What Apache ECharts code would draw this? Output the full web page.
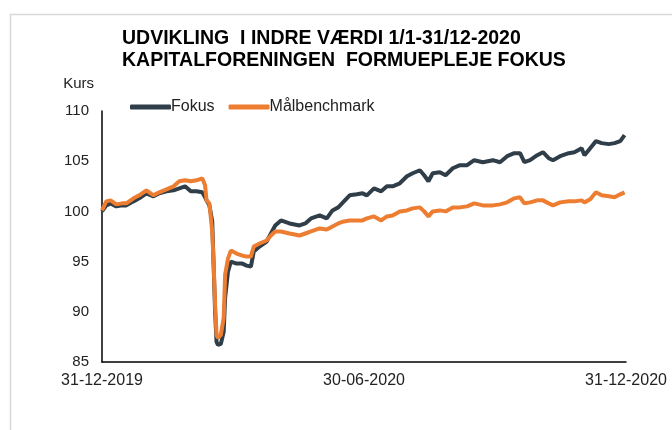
<!DOCTYPE html>
<html>
<head>
<meta charset="utf-8">
<script src="https://cdn.jsdelivr.net/npm/echarts@6/dist/echarts.min.js"></script>
<style>
  html, body { margin: 0; padding: 0; background: #fff; }
  #chart { width: 672px; height: 430px; }
</style>
</head>
<body>
<div id="chart"></div>
<script>
// dage efter 31-12-2019
const days = [0, 3, 6, 10, 14, 17, 22, 26, 31, 36, 40, 45, 50, 54, 58, 62, 66, 70, 72, 73, 75, 77, 78, 79, 80, 81, 83, 85, 86, 88, 90, 94, 98, 101, 104, 106, 110, 115, 118, 121, 125, 131, 138, 142, 146, 152, 157, 161, 165, 169, 173, 178, 182, 185, 190, 195, 199, 203, 208, 213, 217, 222, 225, 228, 231, 236, 240, 245, 250, 255, 260, 266, 273, 278, 283, 288, 292, 295, 299, 304, 308, 312, 315, 320, 326, 330, 335, 337, 341, 345, 349, 354, 358, 362, 365];

const fokus = [100.0, 100.6, 100.8, 100.5, 100.6, 100.6, 101.0, 101.3, 101.8, 101.5, 101.8, 102.0, 102.1, 102.3, 102.5, 102.0, 102.0, 101.9, 101.4, 101.1, 100.6, 99.0, 94.5, 90.0, 87.0, 86.7, 86.8, 88.0, 91.4, 94.0, 95.0, 94.8, 94.8, 94.6, 94.5, 96.0, 96.5, 97.0, 97.8, 98.6, 99.1, 98.8, 98.6, 98.8, 99.3, 99.6, 99.3, 100.1, 100.4, 101.0, 101.6, 101.7, 101.8, 101.6, 102.3, 102.0, 102.5, 102.5, 102.8, 103.5, 103.8, 104.1, 103.6, 103.0, 103.8, 103.9, 103.6, 104.3, 104.6, 104.6, 105.1, 104.9, 105.1, 104.9, 105.5, 105.8, 105.8, 104.9, 105.1, 105.6, 105.9, 105.3, 105.1, 105.5, 105.8, 105.9, 106.3, 105.6, 106.3, 107.0, 106.8, 106.7, 106.8, 107.0, 107.6];

const benchmark = [100.1, 101.0, 101.1, 100.7, 100.8, 100.8, 101.3, 101.6, 102.1, 101.6, 101.9, 102.2, 102.5, 103.0, 103.1, 103.0, 103.1, 103.3, 102.6, 101.1, 100.8, 98.0, 94.7, 90.7, 87.7, 87.4, 87.7, 89.4, 93.7, 95.3, 96.1, 95.8, 95.6, 95.5, 95.5, 96.5, 96.8, 97.1, 97.6, 98.0, 98.0, 97.8, 97.6, 97.8, 98.0, 98.3, 98.2, 98.5, 98.8, 99.0, 99.1, 99.1, 99.1, 99.3, 99.5, 99.1, 99.5, 99.6, 100.0, 100.1, 100.3, 100.4, 100.0, 99.5, 100.0, 100.1, 100.0, 100.4, 100.4, 100.5, 100.8, 100.6, 100.6, 100.7, 100.9, 101.3, 101.4, 100.8, 100.9, 101.1, 101.1, 100.8, 100.6, 100.9, 101.0, 101.0, 101.1, 100.9, 101.2, 101.9, 101.6, 101.5, 101.4, 101.7, 101.9];

const xTickLabels = ['31-12-2019', '30-06-2020', '31-12-2020'];
const seriesNames = ['Fokus', 'Målbenchmark'];

const chart = echarts.init(document.getElementById('chart'));

const option = {
  animation: false,
  textStyle: { fontFamily: 'Liberation Sans, Arial, sans-serif' },
  graphic: [
    {
      type: 'rect',
      left: 8,
      top: 12,
      shape: { width: 700, height: 460 },
      style: { fill: 'none', stroke: '#d9d9d9', lineWidth: 1.5 },
      silent: true
    }
  ],
  title: {
    text: 'UDVIKLING  I INDRE VÆRDI 1/1-31/12-2020\nKAPITALFORENINGEN  FORMUEPLEJE FOKUS',
    left: 122,
    top: 28,
    padding: 0,
    textStyle: {
      fontSize: 19.5,
      fontWeight: 'bold',
      lineHeight: 22,
      color: '#000'
    }
  },
  legend: {
    data: seriesNames,
    left: 130,
    top: 99,
    padding: 0,
    itemWidth: 41,
    itemHeight: 5,
    itemGap: 14,
    icon: 'roundRect',
    textStyle: {
      fontSize: 16,
      color: '#222',
      padding: [0, 0, 0, -5]
    }
  },
  grid: {
    left: 102,
    right: 46,
    top: 111,
    bottom: 68
  },
  xAxis: {
    type: 'value',
    min: 0,
    max: 366,
    interval: 183,
    axisLine: { show: true, lineStyle: { color: '#000', width: 1.5 } },
    axisTick: { show: false },
    splitLine: { show: false },
    axisLabel: {
      fontSize: 16,
      color: '#222',
      margin: 11,
      showMinLabel: true,
      showMaxLabel: true,
      formatter: function (v) {
        return xTickLabels[Math.round(v / 183)];
      }
    }
  },
  yAxis: {
    type: 'value',
    min: 85,
    max: 110,
    interval: 5,
    name: 'Kurs',
    nameLocation: 'end',
    nameGap: 20,
    nameTextStyle: {
      fontSize: 15,
      color: '#222',
      align: 'right',
      padding: [0, 8, 0, 0]
    },
    axisLine: { show: true, lineStyle: { color: '#000', width: 1.5 } },
    axisTick: { show: false },
    splitLine: { show: false },
    axisLabel: {
      fontSize: 15,
      color: '#222',
      margin: 13
    }
  },
  series: [
    {
      name: seriesNames[0],
      type: 'line',
      data: days.map((d, i) => [d, fokus[i]]),
      showSymbol: false,
      color: '#2F3E48',
      lineStyle: { width: 4, color: '#2F3E48' }
    },
    {
      name: seriesNames[1],
      type: 'line',
      data: days.map((d, i) => [d, benchmark[i]]),
      showSymbol: false,
      color: '#ED7D31',
      lineStyle: { width: 4, color: '#ED7D31' }
    }
  ]
};

chart.setOption(option);
</script>
</body>
</html>
